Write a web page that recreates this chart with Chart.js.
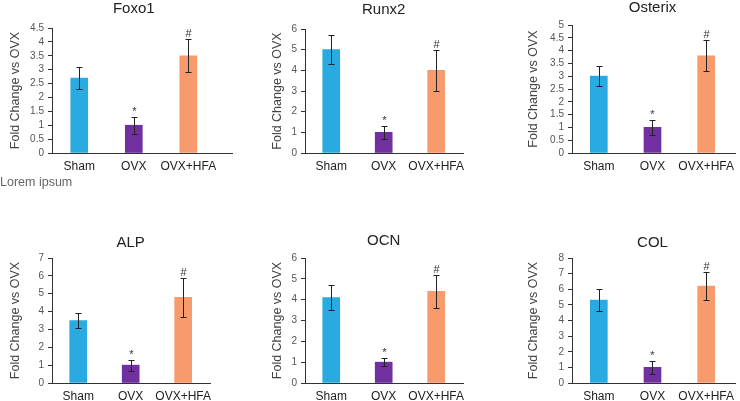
<!DOCTYPE html>
<html>
<head>
<meta charset="utf-8">
<script src="https://cdn.jsdelivr.net/npm/chart.js@4.4.0/dist/chart.umd.min.js"></script>
<style>
  html, body { margin: 0; padding: 0; background: #fff; }
  #wrap { position: relative; width: 740px; height: 401px; overflow: hidden; }
  canvas { position: absolute; }
  .note {
    position: absolute; left: 0; top: 175px;
    font: 12.5px 'Liberation Sans', Arial, sans-serif; color: #666;
  }
</style>
</head>
<body>
<div id="wrap">
  <canvas id="c-foxo1"></canvas>
  <canvas id="c-runx2"></canvas>
  <canvas id="c-osterix"></canvas>
  <canvas id="c-alp"></canvas>
  <canvas id="c-ocn"></canvas>
  <canvas id="c-col"></canvas>
  <div class="note">Lorem ipsum</div>
</div>
<script>
const GROUPS = ['Sham', 'OVX', 'OVX+HFA'];
const MARKS = ['', '*', '#'];

const FOXO1 = [2.7, 1.0, 3.5];
const FOXO1_ERR = [0.4, 0.3, 0.6];
const RUNX2 = [5.0, 1.0, 4.0];
const RUNX2_ERR = [0.7, 0.3, 1.0];
const OSTERIX = [3.0, 1.0, 3.8];
const OSTERIX_ERR = [0.4, 0.3, 0.6];
const ALP = [3.5, 1.0, 4.8];
const ALP_ERR = [0.4, 0.3, 1.1];
const OCN = [4.1, 1.0, 4.4];
const OCN_ERR = [0.6, 0.2, 0.8];
const COL = [5.3, 1.0, 6.2];
const COL_ERR = [0.7, 0.4, 0.9];

const COLORS = ['#29abe2', '#7030a0', '#f79a6c'];
const FONT = "'Liberation Sans', Arial, sans-serif";

// canvas placement, y-axis width, plot top/bottom inside canvas, title offset, x range
const PANELS = [
  { id: 'c-foxo1', title: 'Foxo1', vals: FOXO1, errs: FOXO1_ERR, yMax: 4.5, step: 0.5,
    left: 0, top: 0, w: 233, h: 183, yW: 52, padTop: 28, base: 153, tY: 9, xMax: 3.82 },
  { id: 'c-runx2', title: 'Runx2', vals: RUNX2, errs: RUNX2_ERR, yMax: 6, step: 1,
    left: 262, top: 0, w: 208, h: 183, yW: 43, padTop: 29, base: 153, tY: 10, xMax: 3.53 },
  { id: 'c-osterix', title: 'Osterix', vals: OSTERIX, errs: OSTERIX_ERR, yMax: 5, step: 0.5,
    left: 518, top: 0, w: 222, h: 183, yW: 54, padTop: 25, base: 153, tY: 8, xMax: 3.55 },
  { id: 'c-alp', title: 'ALP', vals: ALP, errs: ALP_ERR, yMax: 7, step: 1,
    left: 0, top: 232, w: 217, h: 169, yW: 52, padTop: 26, base: 151, tY: 11, xMax: 3.53 },
  { id: 'c-ocn', title: 'OCN', vals: OCN, errs: OCN_ERR, yMax: 6, step: 1,
    left: 262, top: 232, w: 208, h: 169, yW: 43, padTop: 26, base: 151, tY: 9, xMax: 3.53 },
  { id: 'c-col', title: 'COL', vals: COL, errs: COL_ERR, yMax: 8, step: 1,
    left: 518, top: 232, w: 222, h: 169, yW: 54, padTop: 26, base: 151, tY: 11, xMax: 3.55 },
];

// error bars, significance marks and the panel title (centred over the middle group)
const errorBars = {
  id: 'errorBars',
  afterDatasetsDraw(chart, args, opts) {
    const { ctx } = chart;
    const { x: xs, y } = chart.scales;
    const ds = chart.data.datasets[0];
    ctx.save();
    ctx.strokeStyle = '#222';
    ctx.lineWidth = 1;
    chart.getDatasetMeta(0).data.forEach((bar, i) => {
      const v = ds.data[i].y, e = opts.errs[i];
      const x = Math.round(bar.x) + 0.5;
      const top = Math.round(y.getPixelForValue(v + e)) + 0.5;
      const bot = Math.round(y.getPixelForValue(v - e)) + 0.5;
      ctx.beginPath();
      ctx.moveTo(x, top); ctx.lineTo(x, bot);
      ctx.moveTo(x - 3, top); ctx.lineTo(x + 3, top);
      ctx.moveTo(x - 3, bot); ctx.lineTo(x + 3, bot);
      ctx.stroke();
      if (opts.marks[i]) {
        ctx.fillStyle = '#333';
        ctx.font = '11px ' + FONT;
        ctx.textAlign = 'center';
        ctx.textBaseline = 'alphabetic';
        ctx.fillText(opts.marks[i], x, top - 3);
      }
    });
    ctx.fillStyle = '#222';
    ctx.font = '15px ' + FONT;
    ctx.textAlign = 'center';
    ctx.textBaseline = 'middle';
    ctx.fillText(opts.title, xs.getPixelForValue(2), opts.titleY);
    ctx.restore();
  },
};

PANELS.forEach((p) => {
  const canvas = document.getElementById(p.id);
  canvas.width = p.w;
  canvas.height = p.h;
  canvas.style.left = p.left + 'px';
  canvas.style.top = p.top + 'px';

  new Chart(canvas.getContext('2d'), {
    type: 'bar',
    data: {
      datasets: [{
        data: p.vals.map((v, i) => ({ x: i + 1, y: v })),
        backgroundColor: COLORS,
        borderWidth: 0,
        barThickness: 17,
      }],
    },
    options: {
      responsive: false,
      animation: false,
      layout: { padding: { top: p.padTop, left: 0, right: 0, bottom: 0 } },
      plugins: {
        legend: { display: false },
        tooltip: { enabled: false },
        title: { display: false },
        errorBars: { errs: p.errs, marks: MARKS, title: p.title, titleY: p.tY },
      },
      scales: {
        x: {
          type: 'linear',
          min: 0.5,
          max: p.xMax,
          offset: false,
          grid: { display: false, drawTicks: false, offset: false },
          border: { display: true, color: '#333', width: 1 },
          afterBuildTicks: (axis) => { axis.ticks = GROUPS.map((_, i) => ({ value: i + 1 })); },
          afterFit: (axis) => { axis.height = p.h - p.base; },
          ticks: {
            autoSkip: false,
            maxRotation: 0,
            padding: 6,
            color: '#222',
            font: { family: FONT, size: 12 },
            callback: (v) => GROUPS[v - 1] ?? '',
          },
        },
        y: {
          min: 0,
          max: p.yMax,
          grid: { drawOnChartArea: false, drawTicks: true, tickLength: 4, color: '#333' },
          border: { display: true, color: '#333', width: 1 },
          afterFit: (axis) => { axis.width = p.yW; },
          ticks: {
            stepSize: p.step,
            autoSkip: false,
            padding: 4,
            color: '#555',
            font: { family: FONT, size: 10 },
            callback: (v) => String(v),
          },
          title: {
            display: true,
            text: 'Fold Change vs OVX',
            color: '#444',
            font: { family: FONT, size: 12.5, lineHeight: 1.2 },
            padding: { top: 8, bottom: 0 },
          },
        },
      },
    },
    plugins: [errorBars],
  });
});
</script>
</body>
</html>
